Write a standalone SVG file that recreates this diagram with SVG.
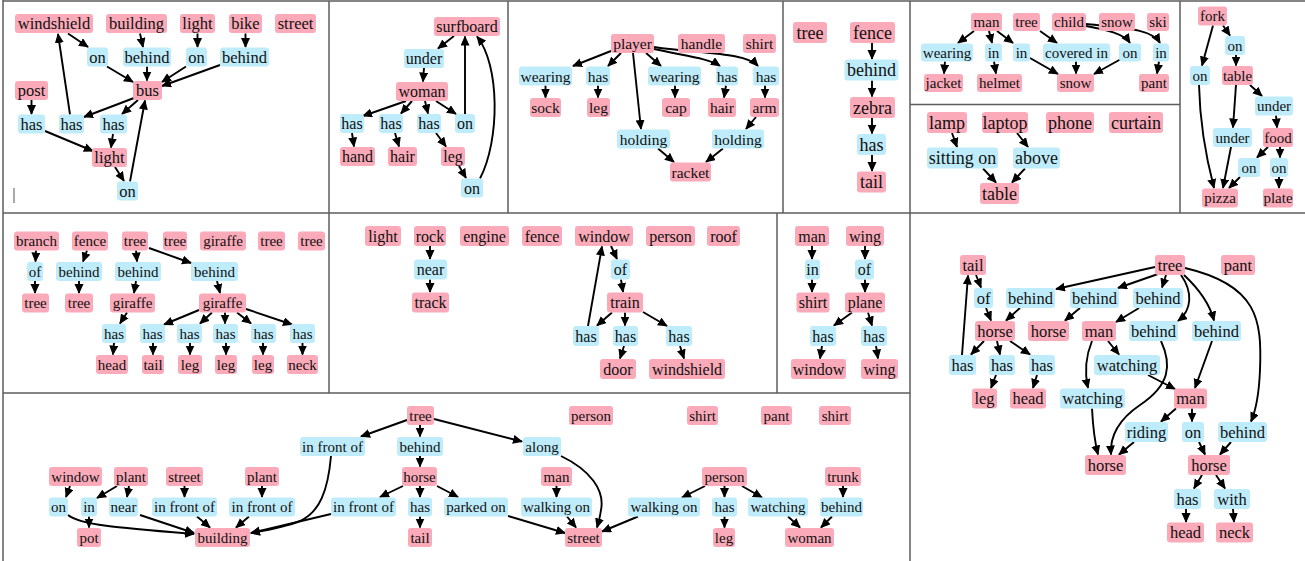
<svg xmlns="http://www.w3.org/2000/svg" width="1305" height="561" viewBox="0 0 1305 561" font-family="Liberation Serif, Times New Roman, serif">
<style>
.p{fill:#fbaab9}
.b{fill:#bfecfa}
rect{rx:3px;ry:3px}
text{font-family:'Liberation Serif','Times New Roman',serif;text-anchor:middle;dominant-baseline:central;fill:#111}
.e path{fill:none;stroke:#000;stroke-width:1.9;marker-end:url(#ah)}
.frame line{stroke:#5c5c5c;stroke-width:1.5}
</style>
<defs>
<marker id="ah" markerUnits="userSpaceOnUse" markerWidth="11" markerHeight="10" refX="9" refY="4.5" orient="auto"><path d="M0,0 L10,4.5 L0,9 z" fill="#000"/></marker>
</defs>
<rect x="0" y="0" width="1305" height="561" fill="#fff"/>
<g class="frame">
<line x1="3" y1="0" x2="3" y2="561"/>
<line x1="3" y1="1" x2="1305" y2="1"/>
<line x1="329" y1="1" x2="329" y2="393"/>
<line x1="508" y1="1" x2="508" y2="213"/>
<line x1="783" y1="1" x2="783" y2="213"/>
<line x1="910" y1="1" x2="910" y2="561"/>
<line x1="1180" y1="1" x2="1180" y2="213"/>
<line x1="910" y1="104.5" x2="1180" y2="104.5"/>
<line x1="3" y1="213" x2="1305" y2="213"/>
<line x1="3" y1="393" x2="910" y2="393"/>
<line x1="777" y1="213" x2="777" y2="393"/>
</g>
<line x1="14" y1="188" x2="14" y2="203" stroke="#555" stroke-width="1"/>

<g id="connectors" class="e">
<g id="edges-a">
<path d="M68,33.5 L88,47"/><path d="M107,66.5 L133,82"/><path d="M140,33.5 L143,47"/><path d="M147,66.5 L147,80.5"/>
<path d="M197.5,33.5 L197.5,47"/><path d="M186,66.5 L162,82"/><path d="M245.5,33.5 L245.5,47"/><path d="M220,65 L162,86"/>
<path d="M134,98 L84,117"/><path d="M138,100 L122,114"/><path d="M70,114.5 L58,34"/><path d="M31.5,100 L31.5,114"/>
<path d="M45,131 L93,151"/><path d="M113,134 L111,147.5"/><path d="M115,167 L124,181"/><path d="M130,181.5 L145,100.5"/>
</g>
<g id="edges-b">
<path d="M454,36 L438,48.5"/><path d="M424,68 L423,81.5"/><path d="M406,101 L363,116"/><path d="M412,101 L401,113.5"/>
<path d="M425,101 L428,113.5"/><path d="M436,101 L456,114"/><path d="M465,114 L465,36.5"/><path d="M352,133 L354,146.5"/>
<path d="M395,133 L399,146.5"/><path d="M436,133 L446,146.5"/><path d="M459,166 L466,178"/><path d="M480,178.5 C500,140 500,65 477,36.5"/>
</g>
<g id="edges-c">
<path d="M611,51 L573,66"/><path d="M621,53 L608,66"/><path d="M633,53 L641,129"/><path d="M646,53 L661,66"/>
<path d="M654,49 C685,56 708,58 720,66"/><path d="M654,47 C700,54 745,52 758,66"/>
<path d="M545.5,85.5 L545.5,97.5"/><path d="M598,85.5 L598,97.5"/><path d="M675,85.5 L675,97.5"/><path d="M726,85.5 L724,97.5"/>
<path d="M765,85.5 L765,97.5"/><path d="M756,117 L746,129"/><path d="M658,148.5 L674,162"/><path d="M723,148.5 L706,162"/>
</g>
<g id="edges-d">
<path d="M872,43 L872,59"/><path d="M872,80.5 L872,96.5"/><path d="M872,118 L872,133.5"/><path d="M872,155 L872,171"/>
</g>
<g id="edges-e">
<path d="M974,31 L958,43"/><path d="M989,31 L992,43"/><path d="M997,31 L1013,43"/><path d="M1040,31 L1057,43"/>
<path d="M1086,26 C1108,30 1124,34 1130,43"/><path d="M1086,24 C1125,28 1152,29 1160,43"/>
<path d="M945,61.5 L944,73.5"/><path d="M994,61.5 L996,73.5"/><path d="M1030,58 L1058,74"/><path d="M1076,61.5 L1076,73.5"/>
<path d="M1121,59 L1094,74"/><path d="M1159,61.5 L1157,73.5"/>
</g>
<g id="edges-f">
<path d="M952,133 L957,147"/><path d="M1017,133 L1028,147"/><path d="M983,168.5 L996,182.5"/><path d="M1025,168.5 L1012,182.5"/>
</g>
<g id="edges-g">
<path d="M1223,25.5 L1230,35.5"/><path d="M1213,25.5 L1202,65.5"/><path d="M1236,55 L1236,65.5"/><path d="M1250,85 L1262,96"/>
<path d="M1236,85 L1233,127.5"/><path d="M1276,115.5 L1277,127.5"/><path d="M1268,147 L1257,157.5"/><path d="M1280,147 L1280,157.5"/>
<path d="M1240,177 L1229,188"/><path d="M1279,177 L1279,188"/><path d="M1199,85 C1200,130 1208,165 1214,188"/><path d="M1231,147 L1223,188"/>
</g>
<g id="edges-h">
<path d="M36,250.5 L35.5,261.5"/><path d="M35,281 L35,293"/><path d="M87,250.5 L83,261.5"/><path d="M79,281 L79,293"/>
<path d="M136,250.5 L137,261.5"/><path d="M149,248 L191,263"/><path d="M136,281 L134,293"/><path d="M217,281 L220,293"/>
<path d="M127,312.5 L120,323.5"/><path d="M199,310 L164,324.5"/><path d="M212,312.5 L200,323.5"/><path d="M225,312.5 L225,323.5"/>
<path d="M237,312.5 L251,323.5"/><path d="M246,309 L292,324.5"/>
<path d="M114,343 L113,354.5"/><path d="M153,343 L153,354.5"/><path d="M190,343 L190,354.5"/><path d="M226,343 L226,354.5"/>
<path d="M263,343 L263,354.5"/><path d="M302.5,343 L302.5,354.5"/>
</g>
<g id="edges-i">
<path d="M430,246 L430,259"/><path d="M430,279.5 L430,292"/><path d="M611,246 L617,259"/><path d="M621,279.5 L623,292"/>
<path d="M612,312.5 L597,325.5"/><path d="M625,312.5 L625,325.5"/><path d="M643,312 L667,326"/><path d="M588,326 L602,246.5"/>
<path d="M624,346 L620,358.5"/><path d="M680,346 L684,358.5"/>
</g>
<g id="edges-j">
<path d="M812,246 L812,259"/><path d="M812,279.5 L812,292"/><path d="M865,246 L865,259"/><path d="M865,279.5 L865,292"/>
<path d="M852,312.5 L834,325.5"/><path d="M868,312.5 L872,325.5"/><path d="M822,346 L820,358.5"/><path d="M876,346 L878,358.5"/>
</g>
<g id="edges-k">
<path d="M1155,267 L1056,289"/><path d="M1158,274 L1118,288"/><path d="M1166,275 L1162,287.5"/>
<path d="M1181,275 C1193,292 1192,310 1178,321"/><path d="M1184,275 C1200,290 1210,305 1214,320.5"/>
<path d="M1185,268 C1258,285 1262,320 1260,370 C1259,395 1256,410 1251,421.5"/>
<path d="M976,275 L981,287.5"/><path d="M986,308 L991,320.5"/><path d="M1020,308 L1006,320.5"/><path d="M1080,308 L1065,320.5"/>
<path d="M1139,308 L1116,322"/><path d="M984,341 L971,354.5"/><path d="M997,341 L1000,354.5"/><path d="M1010,341 L1030,354.5"/>
<path d="M962,355 L968,275.5"/><path d="M996,375 L991,388"/><path d="M1037,375 L1033,388"/><path d="M1108,341 L1119,354.5"/>
<path d="M1092,341 C1085,358 1085,375 1088,388"/><path d="M1148,375 L1175,389"/><path d="M1212,341 L1195,388"/>
<path d="M1161,341 C1172,365 1170,385 1140,405 C1115,422 1110,440 1111,454.5"/>
<path d="M1092,408.5 C1093,428 1095,443 1098,454.5"/>
<path d="M1176,408.5 L1161,421.5"/><path d="M1192,408.5 L1192,421.5"/><path d="M1134,442 L1119,454.5"/><path d="M1199,442 L1205,454.5"/>
<path d="M1231,442 L1220,454.5"/><path d="M1202,475 L1194,488.5"/><path d="M1216,475 L1225,488.5"/><path d="M1186,509 L1186,522"/>
<path d="M1233,509 L1234,522"/>
</g>
<g id="edges-l">
<path d="M407,420 L361,436.5"/><path d="M420,425 L420,436.5"/><path d="M434,419 L522,441.5"/>
<path d="M331,456 C328,490 320,512 300,521 C285,527 268,530 251,533"/>
<path d="M420,456 L420,466.5"/><path d="M403,486 L380,497"/><path d="M420,486 L420,497"/><path d="M437,486 L458,497"/>
<path d="M331,514 L251,533"/><path d="M420,516.5 L420,527.5"/><path d="M508,516 L565,533"/>
<path d="M561,456 C590,470 605,490 601,510 C600,518 598,524 597,527.5"/>
<path d="M556.5,486 L556.5,497"/><path d="M567,516.5 L576,527.5"/><path d="M638,516.5 L602,531.5"/>
<path d="M705,486 L682,497.5"/><path d="M724.5,486 L724.5,497"/><path d="M742,486 L762,497.5"/><path d="M724.5,516.5 L724.5,527.5"/>
<path d="M788,516.5 L800,527.5"/><path d="M843,486 L843,497"/><path d="M832,516.5 L821,527.5"/>
<path d="M70,486 L66,497"/><path d="M117,486 L97,498"/><path d="M129,486 L127,497"/><path d="M89,516.5 L89,527.5"/>
<path d="M68,515 C80,525 120,528 194,534"/><path d="M140,515 L194,533"/>
<path d="M184.5,486 L184.5,497"/><path d="M197,516.5 L210,527.5"/><path d="M249,516.5 L236,527.5"/><path d="M262,486 L262,497"/>
</g>
</g>

<g id="panel-a" font-size="16.5">
<g id="a-windshield"><rect class="p" x="15" y="14" width="78" height="19"/><text x="54" y="23.5">windshield</text></g>
<g id="a-building"><rect class="p" x="106" y="14" width="61" height="19"/><text x="136.5" y="23.5">building</text></g>
<g id="a-light"><rect class="p" x="180" y="14" width="35" height="19"/><text x="197.5" y="23.5">light</text></g>
<g id="a-bike"><rect class="p" x="229" y="14" width="33" height="19"/><text x="245.5" y="23.5">bike</text></g>
<g id="a-street"><rect class="p" x="275" y="14" width="41" height="19"/><text x="295.5" y="23.5">street</text></g>
<g id="a-on1"><rect class="b" x="87" y="47.5" width="21" height="19"/><text x="97.5" y="57">on</text></g>
<g id="a-behind1"><rect class="b" x="123" y="47.5" width="48" height="19"/><text x="147" y="57">behind</text></g>
<g id="a-on2"><rect class="b" x="186" y="47.5" width="21" height="19"/><text x="196.5" y="57">on</text></g>
<g id="a-behind2"><rect class="b" x="220" y="47.5" width="49" height="19"/><text x="244.5" y="57">behind</text></g>
<g id="a-bus"><rect class="p" x="133" y="81" width="29" height="19"/><text x="147.5" y="90.5">bus</text></g>
<g id="a-post"><rect class="p" x="15" y="81" width="33" height="19"/><text x="31.5" y="90.5">post</text></g>
<g id="a-has1"><rect class="b" x="18" y="114.5" width="27" height="19"/><text x="31.5" y="124">has</text></g>
<g id="a-has2"><rect class="b" x="59" y="114.5" width="25" height="19"/><text x="71.5" y="124">has</text></g>
<g id="a-has3"><rect class="b" x="100" y="114.5" width="27" height="19"/><text x="113.5" y="124">has</text></g>
<g id="a-light2"><rect class="p" x="92" y="148" width="35" height="19"/><text x="109.5" y="157.5">light</text></g>
<g id="a-on3"><rect class="b" x="117" y="181.5" width="21" height="19"/><text x="127.5" y="191">on</text></g>
</g>

<g id="panel-b" font-size="16">
<g id="b-surfboard"><rect class="p" x="434" y="17" width="66" height="19"/><text x="467" y="26.5">surfboard</text></g>
<g id="b-under"><rect class="b" x="404" y="49" width="40" height="19"/><text x="424" y="58.5">under</text></g>
<g id="b-woman"><rect class="p" x="396" y="82" width="52" height="19"/><text x="422" y="91.5">woman</text></g>
<g id="b-has1"><rect class="b" x="340" y="114" width="24" height="19"/><text x="352" y="123.5">has</text></g>
<g id="b-has2"><rect class="b" x="379" y="114" width="24" height="19"/><text x="391" y="123.5">has</text></g>
<g id="b-has3"><rect class="b" x="417" y="114" width="24" height="19"/><text x="429" y="123.5">has</text></g>
<g id="b-on1"><rect class="b" x="455" y="114" width="20" height="19"/><text x="465" y="123.5">on</text></g>
<g id="b-hand"><rect class="p" x="340" y="147" width="35" height="19"/><text x="357.5" y="156.5">hand</text></g>
<g id="b-hair"><rect class="p" x="388" y="147" width="29" height="19"/><text x="402.5" y="156.5">hair</text></g>
<g id="b-leg"><rect class="p" x="441" y="147" width="24" height="19"/><text x="453" y="156.5">leg</text></g>
<g id="b-on2"><rect class="b" x="461" y="178.5" width="22" height="19"/><text x="472" y="188">on</text></g>
</g>

<g id="panel-c" font-size="15.5">
<g id="c-player"><rect class="p" x="611" y="34" width="43" height="19"/><text x="632.5" y="43.5">player</text></g>
<g id="c-handle"><rect class="p" x="678" y="34" width="47" height="19"/><text x="701.5" y="43.5">handle</text></g>
<g id="c-shirt"><rect class="p" x="743" y="34" width="33" height="19"/><text x="759.5" y="43.5">shirt</text></g>
<g id="c-wearing1"><rect class="b" x="519" y="66.5" width="53" height="19"/><text x="545.5" y="76">wearing</text></g>
<g id="c-has1"><rect class="b" x="586" y="66.5" width="24" height="19"/><text x="598" y="76">has</text></g>
<g id="c-wearing2"><rect class="b" x="648" y="66.5" width="53" height="19"/><text x="674.5" y="76">wearing</text></g>
<g id="c-has2"><rect class="b" x="716" y="66.5" width="22" height="19"/><text x="727" y="76">has</text></g>
<g id="c-has3"><rect class="b" x="753" y="66.5" width="26" height="19"/><text x="766" y="76">has</text></g>
<g id="c-sock"><rect class="p" x="530" y="98" width="31" height="19"/><text x="545.5" y="107.5">sock</text></g>
<g id="c-leg"><rect class="p" x="587" y="98" width="23" height="19"/><text x="598.5" y="107.5">leg</text></g>
<g id="c-cap"><rect class="p" x="662" y="98" width="28" height="19"/><text x="676" y="107.5">cap</text></g>
<g id="c-hair"><rect class="p" x="708" y="98" width="28" height="19"/><text x="722" y="107.5">hair</text></g>
<g id="c-arm"><rect class="p" x="750" y="98" width="29" height="19"/><text x="764.5" y="107.5">arm</text></g>
<g id="c-holding1"><rect class="b" x="617" y="129.5" width="53" height="19"/><text x="643.5" y="139">holding</text></g>
<g id="c-holding2"><rect class="b" x="712" y="129.5" width="52" height="19"/><text x="738" y="139">holding</text></g>
<g id="c-racket"><rect class="p" x="670" y="162.5" width="41" height="19"/><text x="690.5" y="172">racket</text></g>
</g>

<g id="panel-d" font-size="18">
<g id="d-tree"><rect class="p" x="793" y="22" width="34" height="21"/><text x="810" y="32.5">tree</text></g>
<g id="d-fence"><rect class="p" x="850" y="22" width="45" height="21"/><text x="872.5" y="32.5">fence</text></g>
<g id="d-behind"><rect class="b" x="844.5" y="59.5" width="54" height="21"/><text x="871.5" y="70">behind</text></g>
<g id="d-zebra"><rect class="p" x="850" y="97" width="45" height="21"/><text x="872.5" y="107.5">zebra</text></g>
<g id="d-has"><rect class="b" x="857" y="134" width="29" height="21"/><text x="871.5" y="144.5">has</text></g>
<g id="d-tail"><rect class="p" x="857" y="171.5" width="29" height="21"/><text x="871.5" y="182">tail</text></g>
</g>

<g id="panel-e" font-size="15">
<g id="e-man"><rect class="p" x="971" y="13" width="31" height="18"/><text x="986.5" y="22">man</text></g>
<g id="e-tree"><rect class="p" x="1013" y="13" width="27" height="18"/><text x="1026.5" y="22">tree</text></g>
<g id="e-child"><rect class="p" x="1052" y="13" width="34" height="18"/><text x="1069" y="22">child</text></g>
<g id="e-snow1"><rect class="p" x="1099" y="13" width="36" height="18"/><text x="1117" y="22">snow</text></g>
<g id="e-ski"><rect class="p" x="1147" y="13" width="22" height="18"/><text x="1158" y="22">ski</text></g>
<g id="e-wearing"><rect class="b" x="921" y="43.5" width="52" height="18"/><text x="947" y="52.5">wearing</text></g>
<g id="e-in1"><rect class="b" x="985" y="43.5" width="17" height="18"/><text x="993.5" y="52.5">in</text></g>
<g id="e-in2"><rect class="b" x="1013" y="43.5" width="17" height="18"/><text x="1021.5" y="52.5">in</text></g>
<g id="e-covered"><rect class="b" x="1043" y="43.5" width="67" height="18"/><text x="1076.5" y="52.5">covered in</text></g>
<g id="e-on"><rect class="b" x="1119" y="43.5" width="22" height="18"/><text x="1130" y="52.5">on</text></g>
<g id="e-in3"><rect class="b" x="1153" y="43.5" width="16" height="18"/><text x="1161" y="52.5">in</text></g>
<g id="e-jacket"><rect class="p" x="924" y="74" width="39" height="18"/><text x="943.5" y="83">jacket</text></g>
<g id="e-helmet"><rect class="p" x="977" y="74" width="45" height="18"/><text x="999.5" y="83">helmet</text></g>
<g id="e-snow2"><rect class="p" x="1057" y="74" width="37" height="18"/><text x="1075.5" y="83">snow</text></g>
<g id="e-pant"><rect class="p" x="1139" y="74" width="30" height="18"/><text x="1154" y="83">pant</text></g>
</g>

<g id="panel-f" font-size="18">
<g id="f-lamp"><rect class="p" x="927" y="112" width="40" height="21"/><text x="947" y="122.5">lamp</text></g>
<g id="f-laptop"><rect class="p" x="982" y="112" width="46" height="21"/><text x="1005" y="122.5">laptop</text></g>
<g id="f-phone"><rect class="p" x="1046" y="112" width="48" height="21"/><text x="1070" y="122.5">phone</text></g>
<g id="f-curtain"><rect class="p" x="1109" y="112" width="54" height="21"/><text x="1136" y="122.5">curtain</text></g>
<g id="f-sitting"><rect class="b" x="927" y="147.5" width="71" height="21"/><text x="962.5" y="158">sitting on</text></g>
<g id="f-above"><rect class="b" x="1013" y="147.5" width="47" height="21"/><text x="1036.5" y="158">above</text></g>
<g id="f-table"><rect class="p" x="980" y="183" width="39" height="21"/><text x="999.5" y="193.5">table</text></g>
</g>

<g id="panel-g" font-size="15">
<g id="g-fork"><rect class="p" x="1198" y="6.5" width="29" height="19"/><text x="1212.5" y="16">fork</text></g>
<g id="g-on1"><rect class="b" x="1225" y="36" width="20" height="19"/><text x="1235" y="45.5">on</text></g>
<g id="g-on2"><rect class="b" x="1190" y="66" width="20" height="19"/><text x="1200" y="75.5">on</text></g>
<g id="g-table"><rect class="p" x="1222" y="66" width="31" height="19"/><text x="1237.5" y="75.5">table</text></g>
<g id="g-under1"><rect class="b" x="1255" y="96.5" width="38" height="19"/><text x="1274" y="106">under</text></g>
<g id="g-under2"><rect class="b" x="1213" y="128" width="39" height="19"/><text x="1232.5" y="137.5">under</text></g>
<g id="g-food"><rect class="p" x="1263" y="128" width="30" height="19"/><text x="1278" y="137.5">food</text></g>
<g id="g-on3"><rect class="b" x="1238" y="158" width="22" height="19"/><text x="1249" y="167.5">on</text></g>
<g id="g-on4"><rect class="b" x="1270" y="158" width="18" height="19"/><text x="1279" y="167.5">on</text></g>
<g id="g-pizza"><rect class="p" x="1202" y="188.5" width="36" height="19"/><text x="1220" y="198">pizza</text></g>
<g id="g-plate"><rect class="p" x="1263" y="188.5" width="30" height="19"/><text x="1278" y="198">plate</text></g>
</g>

<g id="panel-h" font-size="15">
<g id="h-branch"><rect class="p" x="14" y="231.5" width="45" height="19"/><text x="36.5" y="241">branch</text></g>
<g id="h-fence"><rect class="p" x="72" y="231.5" width="36" height="19"/><text x="90" y="241">fence</text></g>
<g id="h-tree1"><rect class="p" x="122" y="231.5" width="26" height="19"/><text x="135" y="241">tree</text></g>
<g id="h-tree2"><rect class="p" x="163" y="231.5" width="24" height="19"/><text x="175" y="241">tree</text></g>
<g id="h-giraffe1"><rect class="p" x="200" y="231.5" width="46" height="19"/><text x="223" y="241">giraffe</text></g>
<g id="h-tree3"><rect class="p" x="258" y="231.5" width="27" height="19"/><text x="271.5" y="241">tree</text></g>
<g id="h-tree4"><rect class="p" x="298" y="231.5" width="27" height="19"/><text x="311.5" y="241">tree</text></g>
<g id="h-of"><rect class="b" x="27" y="262" width="16" height="19"/><text x="35" y="271.5">of</text></g>
<g id="h-behind1"><rect class="b" x="56" y="262" width="46" height="19"/><text x="79" y="271.5">behind</text></g>
<g id="h-behind2"><rect class="b" x="115" y="262" width="46" height="19"/><text x="138" y="271.5">behind</text></g>
<g id="h-behind3"><rect class="b" x="191" y="262" width="47" height="19"/><text x="214.5" y="271.5">behind</text></g>
<g id="h-tree5"><rect class="p" x="22" y="293.5" width="27" height="19"/><text x="35.5" y="303">tree</text></g>
<g id="h-tree6"><rect class="p" x="65" y="293.5" width="28" height="19"/><text x="79" y="303">tree</text></g>
<g id="h-giraffe2"><rect class="p" x="110" y="293.5" width="45" height="19"/><text x="132.5" y="303">giraffe</text></g>
<g id="h-giraffe3"><rect class="p" x="199" y="293.5" width="47" height="19"/><text x="222.5" y="303">giraffe</text></g>
<g id="h-has1"><rect class="b" x="102" y="324" width="24" height="19"/><text x="114" y="333.5">has</text></g>
<g id="h-has2"><rect class="b" x="140" y="324" width="25" height="19"/><text x="152.5" y="333.5">has</text></g>
<g id="h-has3"><rect class="b" x="177" y="324" width="25" height="19"/><text x="189.5" y="333.5">has</text></g>
<g id="h-has4"><rect class="b" x="213" y="324" width="25" height="19"/><text x="225.5" y="333.5">has</text></g>
<g id="h-has5"><rect class="b" x="251" y="324" width="25" height="19"/><text x="263.5" y="333.5">has</text></g>
<g id="h-has6"><rect class="b" x="290" y="324" width="25" height="19"/><text x="302.5" y="333.5">has</text></g>
<g id="h-head"><rect class="p" x="96" y="355" width="32" height="19"/><text x="112" y="364.5">head</text></g>
<g id="h-tail"><rect class="p" x="142" y="355" width="22" height="19"/><text x="153" y="364.5">tail</text></g>
<g id="h-leg1"><rect class="p" x="178" y="355" width="24" height="19"/><text x="190" y="364.5">leg</text></g>
<g id="h-leg2"><rect class="p" x="215" y="355" width="22" height="19"/><text x="226" y="364.5">leg</text></g>
<g id="h-leg3"><rect class="p" x="252" y="355" width="22" height="19"/><text x="263" y="364.5">leg</text></g>
<g id="h-neck"><rect class="p" x="287" y="355" width="31" height="19"/><text x="302.5" y="364.5">neck</text></g>
</g>

<g id="panel-i" font-size="16">
<g id="i-light"><rect class="p" x="365" y="226" width="36" height="20"/><text x="383" y="236">light</text></g>
<g id="i-rock"><rect class="p" x="414" y="226" width="32" height="20"/><text x="430" y="236">rock</text></g>
<g id="i-engine"><rect class="p" x="460" y="226" width="49" height="20"/><text x="484.5" y="236">engine</text></g>
<g id="i-fence"><rect class="p" x="522" y="226" width="40" height="20"/><text x="542" y="236">fence</text></g>
<g id="i-window"><rect class="p" x="575" y="226" width="58" height="20"/><text x="604" y="236">window</text></g>
<g id="i-person"><rect class="p" x="646" y="226" width="49" height="20"/><text x="670.5" y="236">person</text></g>
<g id="i-roof"><rect class="p" x="707" y="226" width="33" height="20"/><text x="723.5" y="236">roof</text></g>
<g id="i-near"><rect class="b" x="414" y="259.5" width="33" height="20"/><text x="430.5" y="269.5">near</text></g>
<g id="i-of"><rect class="b" x="611" y="259.5" width="19" height="20"/><text x="620.5" y="269.5">of</text></g>
<g id="i-track"><rect class="p" x="412" y="292.5" width="37" height="20"/><text x="430.5" y="302.5">track</text></g>
<g id="i-train"><rect class="p" x="607" y="292.5" width="36" height="20"/><text x="625" y="302.5">train</text></g>
<g id="i-has1"><rect class="b" x="573" y="326" width="26" height="20"/><text x="586" y="336">has</text></g>
<g id="i-has2"><rect class="b" x="613" y="326" width="25" height="20"/><text x="625.5" y="336">has</text></g>
<g id="i-has3"><rect class="b" x="666" y="326" width="26" height="20"/><text x="679" y="336">has</text></g>
<g id="i-door"><rect class="p" x="600" y="359" width="36" height="20"/><text x="618" y="369">door</text></g>
<g id="i-windshield"><rect class="p" x="649" y="359" width="76" height="20"/><text x="687" y="369">windshield</text></g>
</g>

<g id="panel-j" font-size="16">
<g id="j-man"><rect class="p" x="795" y="226" width="34" height="20"/><text x="812" y="236">man</text></g>
<g id="j-wing1"><rect class="p" x="846" y="226" width="38" height="20"/><text x="865" y="236">wing</text></g>
<g id="j-in"><rect class="b" x="805" y="259.5" width="15" height="20"/><text x="812.5" y="269.5">in</text></g>
<g id="j-of"><rect class="b" x="855" y="259.5" width="19" height="20"/><text x="864.5" y="269.5">of</text></g>
<g id="j-shirt"><rect class="p" x="796.5" y="292.5" width="33" height="20"/><text x="813" y="302.5">shirt</text></g>
<g id="j-plane"><rect class="p" x="845" y="292.5" width="40" height="20"/><text x="865" y="302.5">plane</text></g>
<g id="j-has1"><rect class="b" x="810" y="326" width="26" height="20"/><text x="823" y="336">has</text></g>
<g id="j-has2"><rect class="b" x="861" y="326" width="26" height="20"/><text x="874" y="336">has</text></g>
<g id="j-window"><rect class="p" x="791" y="359" width="55" height="20"/><text x="818.5" y="369">window</text></g>
<g id="j-wing2"><rect class="p" x="861" y="359" width="37" height="20"/><text x="879.5" y="369">wing</text></g>
</g>

<g id="panel-k" font-size="16.5">
<g id="k-tail"><rect class="p" x="960" y="255" width="26" height="20"/><text x="973" y="265">tail</text></g>
<g id="k-tree"><rect class="p" x="1155" y="255" width="30" height="20"/><text x="1170" y="265">tree</text></g>
<g id="k-pant"><rect class="p" x="1221" y="255" width="34" height="20"/><text x="1238" y="265">pant</text></g>
<g id="k-of"><rect class="b" x="974" y="288" width="19" height="20"/><text x="983.5" y="298">of</text></g>
<g id="k-behind1"><rect class="b" x="1006" y="288" width="49" height="20"/><text x="1030.5" y="298">behind</text></g>
<g id="k-behind2"><rect class="b" x="1070" y="288" width="49" height="20"/><text x="1094.5" y="298">behind</text></g>
<g id="k-behind3"><rect class="b" x="1133" y="288" width="50" height="20"/><text x="1158" y="298">behind</text></g>
<g id="k-horse1"><rect class="p" x="975" y="321" width="40" height="20"/><text x="995" y="331">horse</text></g>
<g id="k-horse2"><rect class="p" x="1028" y="321" width="41" height="20"/><text x="1048.5" y="331">horse</text></g>
<g id="k-man1"><rect class="p" x="1082" y="321" width="34" height="20"/><text x="1099" y="331">man</text></g>
<g id="k-behind4"><rect class="b" x="1129" y="321" width="49" height="20"/><text x="1153.5" y="331">behind</text></g>
<g id="k-behind5"><rect class="b" x="1192" y="321" width="49" height="20"/><text x="1216.5" y="331">behind</text></g>
<g id="k-has1"><rect class="b" x="949" y="355" width="27" height="20"/><text x="962.5" y="365">has</text></g>
<g id="k-has2"><rect class="b" x="989" y="355" width="26" height="20"/><text x="1002" y="365">has</text></g>
<g id="k-has3"><rect class="b" x="1029" y="355" width="26" height="20"/><text x="1042" y="365">has</text></g>
<g id="k-watching1"><rect class="b" x="1094" y="355" width="66" height="20"/><text x="1127" y="365">watching</text></g>
<g id="k-leg"><rect class="p" x="972" y="388.5" width="25" height="20"/><text x="984.5" y="398.5">leg</text></g>
<g id="k-head1"><rect class="p" x="1010" y="388.5" width="36" height="20"/><text x="1028" y="398.5">head</text></g>
<g id="k-watching2"><rect class="b" x="1060" y="388.5" width="65" height="20"/><text x="1092.5" y="398.5">watching</text></g>
<g id="k-man2"><rect class="p" x="1174" y="388.5" width="33" height="20"/><text x="1190.5" y="398.5">man</text></g>
<g id="k-riding"><rect class="b" x="1125" y="422" width="43" height="20"/><text x="1146.5" y="432">riding</text></g>
<g id="k-on"><rect class="b" x="1182" y="422" width="22" height="20"/><text x="1193" y="432">on</text></g>
<g id="k-behind6"><rect class="b" x="1218" y="422" width="49" height="20"/><text x="1242.5" y="432">behind</text></g>
<g id="k-horse3"><rect class="p" x="1085" y="455" width="41" height="20"/><text x="1105.5" y="465">horse</text></g>
<g id="k-horse4"><rect class="p" x="1188" y="455" width="42" height="20"/><text x="1209" y="465">horse</text></g>
<g id="k-has4"><rect class="b" x="1174" y="489" width="27" height="20"/><text x="1187.5" y="499">has</text></g>
<g id="k-with"><rect class="b" x="1214" y="489" width="36" height="20"/><text x="1232" y="499">with</text></g>
<g id="k-head2"><rect class="p" x="1167" y="522.5" width="37" height="20"/><text x="1185.5" y="532.5">head</text></g>
<g id="k-neck"><rect class="p" x="1216" y="522.5" width="37" height="20"/><text x="1234.5" y="532.5">neck</text></g>
</g>

<g id="panel-l" font-size="15">
<g id="l-tree"><rect class="p" x="407" y="406" width="27" height="19"/><text x="420.5" y="415.5">tree</text></g>
<g id="l-infront1"><rect class="b" x="300" y="437" width="65" height="19"/><text x="332.5" y="446.5">in front of</text></g>
<g id="l-behind1"><rect class="b" x="397" y="437" width="46" height="19"/><text x="420" y="446.5">behind</text></g>
<g id="l-along"><rect class="b" x="523" y="437" width="38" height="19"/><text x="542" y="446.5">along</text></g>
<g id="l-person1"><rect class="p" x="569" y="406" width="44" height="19"/><text x="591" y="415.5">person</text></g>
<g id="l-shirt1"><rect class="p" x="687" y="406" width="31" height="19"/><text x="702.5" y="415.5">shirt</text></g>
<g id="l-pant"><rect class="p" x="761" y="406" width="31" height="19"/><text x="776.5" y="415.5">pant</text></g>
<g id="l-shirt2"><rect class="p" x="819" y="406" width="32" height="19"/><text x="835" y="415.5">shirt</text></g>
<g id="l-window"><rect class="p" x="49" y="467" width="53" height="19"/><text x="75.5" y="476.5">window</text></g>
<g id="l-plant1"><rect class="p" x="114" y="467" width="34" height="19"/><text x="131" y="476.5">plant</text></g>
<g id="l-street1"><rect class="p" x="166" y="467" width="37" height="19"/><text x="184.5" y="476.5">street</text></g>
<g id="l-plant2"><rect class="p" x="245" y="467" width="34" height="19"/><text x="262" y="476.5">plant</text></g>
<g id="l-horse"><rect class="p" x="402" y="467" width="35" height="19"/><text x="419.5" y="476.5">horse</text></g>
<g id="l-man"><rect class="p" x="541" y="467" width="31" height="19"/><text x="556.5" y="476.5">man</text></g>
<g id="l-person2"><rect class="p" x="702" y="467" width="45" height="19"/><text x="724.5" y="476.5">person</text></g>
<g id="l-trunk"><rect class="p" x="825" y="467" width="36" height="19"/><text x="843" y="476.5">trunk</text></g>
<g id="l-on"><rect class="b" x="49" y="497.5" width="19" height="19"/><text x="58.5" y="507">on</text></g>
<g id="l-in"><rect class="b" x="81" y="497.5" width="16" height="19"/><text x="89" y="507">in</text></g>
<g id="l-near"><rect class="b" x="109" y="497.5" width="29" height="19"/><text x="123.5" y="507">near</text></g>
<g id="l-infront2"><rect class="b" x="152" y="497.5" width="65" height="19"/><text x="184.5" y="507">in front of</text></g>
<g id="l-infront3"><rect class="b" x="229" y="497.5" width="66" height="19"/><text x="262" y="507">in front of</text></g>
<g id="l-infront4"><rect class="b" x="331" y="497.5" width="65" height="19"/><text x="363.5" y="507">in front of</text></g>
<g id="l-has1"><rect class="b" x="408" y="497.5" width="24" height="19"/><text x="420" y="507">has</text></g>
<g id="l-parked"><rect class="b" x="444" y="497.5" width="64" height="19"/><text x="476" y="507">parked on</text></g>
<g id="l-walking1"><rect class="b" x="521" y="497.5" width="71" height="19"/><text x="556.5" y="507">walking on</text></g>
<g id="l-walking2"><rect class="b" x="628" y="497.5" width="72" height="19"/><text x="664" y="507">walking on</text></g>
<g id="l-has2"><rect class="b" x="712" y="497.5" width="25" height="19"/><text x="724.5" y="507">has</text></g>
<g id="l-watching"><rect class="b" x="748" y="497.5" width="60" height="19"/><text x="778" y="507">watching</text></g>
<g id="l-behind2"><rect class="b" x="820" y="497.5" width="43" height="19"/><text x="841.5" y="507">behind</text></g>
<g id="l-pot"><rect class="p" x="77" y="528" width="24" height="19"/><text x="89" y="537.5">pot</text></g>
<g id="l-building"><rect class="p" x="195" y="528" width="55" height="19"/><text x="222.5" y="537.5">building</text></g>
<g id="l-tail"><rect class="p" x="408" y="528" width="24" height="19"/><text x="420" y="537.5">tail</text></g>
<g id="l-street2"><rect class="p" x="565" y="528" width="37" height="19"/><text x="583.5" y="537.5">street</text></g>
<g id="l-leg"><rect class="p" x="713" y="528" width="22" height="19"/><text x="724" y="537.5">leg</text></g>
<g id="l-woman"><rect class="p" x="785" y="528" width="49" height="19"/><text x="809.5" y="537.5">woman</text></g>
</g>
</svg>
